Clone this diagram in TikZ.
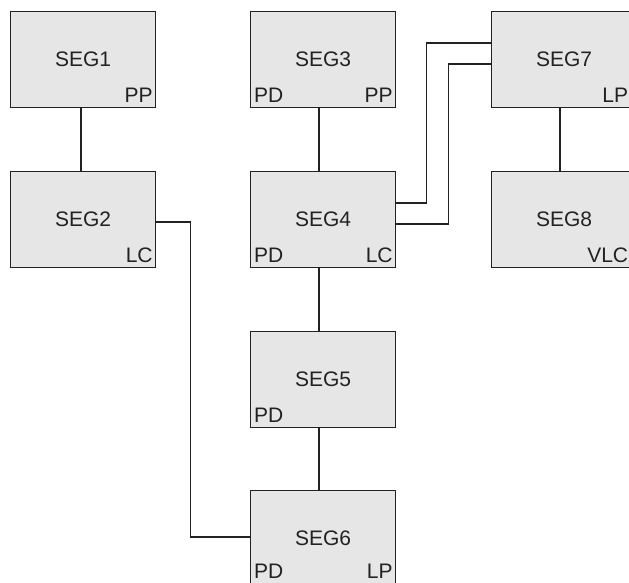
\documentclass[tikz,border=0pt]{standalone}
\usepackage{fontspec}
\setmainfont{Liberation Sans}
\usetikzlibrary{calc}
\definecolor{boxfill}{HTML}{E6E6E6}
\definecolor{ink}{HTML}{222222}
\begin{document}
\begin{tikzpicture}[x=1pt,y=-1pt,
  segbox/.style={draw=ink, fill=boxfill, line width=1.3pt, minimum width=145pt, minimum height=96pt, inner sep=0pt, anchor=north west, font=\fontsize{21}{24}\selectfont, text=ink},
  lbl/.style={font=\fontsize{21}{24}\selectfont, text=ink, inner sep=0pt},
  link/.style={draw=ink, line width=1.1pt}]
\useasboundingbox (0,0) rectangle (629,582);
\clip (0,0) rectangle (629,582);
\node[segbox] (s1) at (10,11) {SEG1};
\node[segbox] (s2) at (10,171) {SEG2};
\node[segbox] (s3) at (250,11) {SEG3};
\node[segbox] (s4) at (250,171) {SEG4};
\node[segbox] (s5) at (250,331) {SEG5};
\node[segbox] (s6) at (250,490) {SEG6};
\node[segbox] (s7) at (491,11) {SEG7};
\node[segbox] (s8) at (491,171) {SEG8};
% corner labels
\node[lbl, anchor=base east] (l1r) at ($(s1.south east)+(-3.5,-5.5)$) {PP};
\node[lbl, anchor=base east] (l2r) at ($(s2.south east)+(-3.5,-5.5)$) {LC};
\node[lbl, anchor=base west] (l3l) at ($(s3.south west)+(4,-5.5)$) {PD};
\node[lbl, anchor=base east] (l3r) at ($(s3.south east)+(-3.5,-5.5)$) {PP};
\node[lbl, anchor=base west] (l4l) at ($(s4.south west)+(4,-5.5)$) {PD};
\node[lbl, anchor=base east] (l4r) at ($(s4.south east)+(-3.5,-5.5)$) {LC};
\node[lbl, anchor=base west] (l5l) at ($(s5.south west)+(4,-5.5)$) {PD};
\node[lbl, anchor=base west] (l6l) at ($(s6.south west)+(4,-9)$) {PD};
\node[lbl, anchor=base east] (l6r) at ($(s6.south east)+(-3.5,-9)$) {LP};
\node[lbl, anchor=base east] (l7r) at ($(s7.south east)+(-9,-5.5)$) {LP};
\node[lbl, anchor=base east] (l8r) at ($(s8.south east)+(-9,-5.5)$) {VLC};
% connectors
\draw[link] ($(s1.south west)+(71,0)$) -- ($(s2.north west)+(71,0)$);
\draw[link] ($(s3.south west)+(69,0)$) -- ($(s4.north west)+(69,0)$);
\draw[link] ($(s4.south west)+(69,0)$) -- ($(s5.north west)+(69,0)$);
\draw[link] ($(s5.south west)+(69,0)$) -- ($(s6.north west)+(69,0)$);
\draw[link] ($(s7.south west)+(69,0)$) -- ($(s8.north west)+(69,0)$);
\draw[link] ($(s2.north east)+(0,51)$) -- ++(34,0) |- ($(s6.north west)+(0,47)$);
\draw[link] ($(s4.north east)+(0,32)$) -- ++(30,0) |- ($(s7.north west)+(0,32)$);
\draw[link] ($(s4.north east)+(0,53)$) -- ++(52,0) |- ($(s7.north west)+(0,53)$);
\end{tikzpicture}
\end{document}
